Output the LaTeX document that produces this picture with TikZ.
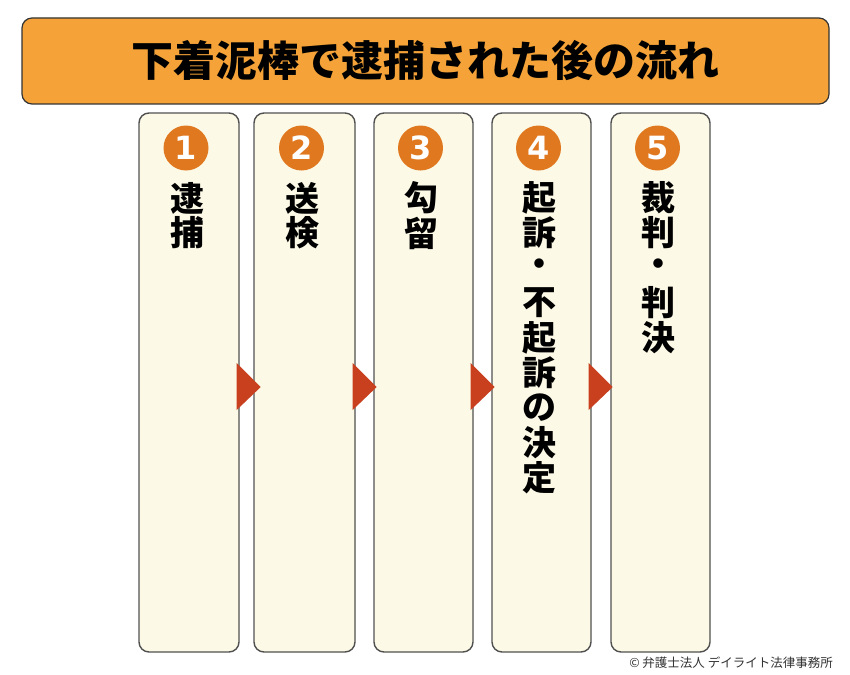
\documentclass[tikz,border=0pt]{standalone}
\usepackage{fontspec}
\usetikzlibrary{calc}
\newfontfamily\cjk{Noto Sans CJK JP}[BoldFont={Noto Sans CJK JP Bold}]
\newfontfamily\cjkblack{Noto Sans CJK JP Black}
\newfontfamily\numfont{DejaVu Sans}
\definecolor{titleorange}{HTML}{F5A338}
\definecolor{circorange}{HTML}{E07820}
\definecolor{arrowred}{HTML}{C8401E}
\definecolor{colfill}{HTML}{FCFAE6}
\definecolor{colborder}{HTML}{505050}
\begin{document}
\begin{tikzpicture}[x=1pt,y=-1pt,
  titlebox/.style={draw=black!80,line width=1.2pt,fill=titleorange,rounded corners=10pt,minimum width=807pt,minimum height=86pt,inner sep=0pt},
  colbox/.style={draw=colborder,line width=1.4pt,fill=colfill,rounded corners=10pt,minimum height=539pt,inner sep=0pt},
  numcirc/.style={circle,fill=circorange,minimum size=45pt,inner sep=0pt,text=white,font=\numfont\bfseries\fontsize{32}{32}\selectfont},
  vchar/.style={inner sep=0pt,font=\cjkblack\fontsize{34}{34}\selectfont},
  flowarrow/.style={fill=arrowred},
]
\useasboundingbox (0,0) rectangle (850,674);
\fill[white] (0,0) rectangle (850,674);
% title
\node[titlebox] (title) at (425.5,61) {};
\node[inner sep=0pt,font=\cjkblack\fontsize{42}{42}\selectfont] (titletext) at (425.5,61) {下着泥棒で逮捕された後の流れ};
% columns
\node[colbox,minimum width=100pt] (c1) at (189,382.5) {};
\node[colbox,minimum width=101pt] (c2) at (304.5,382.5) {};
\node[colbox,minimum width=99pt] (c3) at (423.5,382.5) {};
\node[colbox,minimum width=99pt] (c4) at (541.5,382.5) {};
\node[colbox,minimum width=99pt] (c5) at (660.5,382.5) {};
% arrows between columns
\foreach \a/\b in {c1/c2,c2/c3,c3/c4,c4/c5}{
  \fill[flowarrow] ($(\a.east)+(-3,-19.5)$) -- ($(\a.east)+(21,4.5)$) -- ($(\a.east)+(-3,27.5)$) -- cycle;
}
% number circles and vertical texts
\foreach \i/\cx in {1/189,2/304.5,3/423.5,4/541.5,5/660.5}{
  \node[numcirc] (n\i) at ({\cx-3},148) {\i};
}
\foreach \ch [count=\k from 0] in {逮,捕}{
  \node[vchar] (t1-\k) at (187,{198+35*\k}) {\ch};
}
\foreach \ch [count=\k from 0] in {送,検}{
  \node[vchar] (t2-\k) at (302.5,{198+35*\k}) {\ch};
}
\foreach \ch [count=\k from 0] in {勾,留}{
  \node[vchar] (t3-\k) at (421.5,{198+35*\k}) {\ch};
}
\foreach \ch [count=\k from 0] in {起,訴,・,不,起,訴,の,決,定}{
  \node[vchar] (t4-\k) at (539.5,{198+35*\k}) {\ch};
}
\foreach \ch [count=\k from 0] in {裁,判,・,判,決}{
  \node[vchar] (t5-\k) at (658.5,{198+35*\k}) {\ch};
}
% footer
\node[inner sep=0pt,text=black!80,font=\cjk\fontsize{12.5}{12.5}\selectfont] (footer) at (731,663) {© 弁護士法人 デイライト法律事務所};
\end{tikzpicture}
\end{document}
